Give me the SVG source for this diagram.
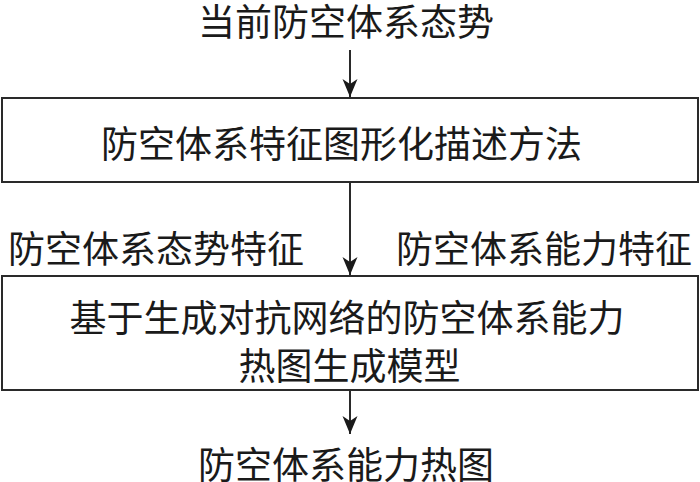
<svg xmlns="http://www.w3.org/2000/svg" width="700" height="482" viewBox="0 0 700 482">
  <style>
    .t { font-family: "Noto Sans CJK SC", "Noto Sans", sans-serif; font-size: 37px; fill: #1a1a1a; dominant-baseline: central; }
    .m { text-anchor: middle; }
    .box { fill: #ffffff; stroke: #2a2a2a; stroke-width: 2; }
    .conn { stroke: #2a2a2a; stroke-width: 2; fill: none; marker-end: url(#arr); }
  </style>
  <defs>
    <marker id="arr" viewBox="-18 -8 18 16" refX="0" refY="0" markerWidth="18" markerHeight="16" orient="auto" markerUnits="userSpaceOnUse">
      <path d="M0,0 L-18,-7.5 L-13,0 L-18,7.5 Z" fill="#1a1a1a"/>
    </marker>
  </defs>
  <rect width="700" height="482" fill="#ffffff"/>

  <g id="connectors">
    <line class="conn" x1="350" y1="50" x2="350" y2="97"/>
    <line class="conn" x1="350" y1="183" x2="350" y2="275"/>
    <line class="conn" x1="350" y1="391" x2="350" y2="434"/>
  </g>

  <g id="input">
    <text class="t m" x="346" y="20">当前防空体系态势</text>
  </g>

  <g id="box1">
    <rect class="box" x="2" y="98" width="696" height="84"/>
    <text class="t m" x="341.5" y="142">防空体系特征图形化描述方法</text>
  </g>

  <g id="label-left">
    <text class="t" x="8" y="247">防空体系态势特征</text>
  </g>

  <g id="label-right">
    <text class="t" x="396" y="247">防空体系能力特征</text>
  </g>

  <g id="box2">
    <rect class="box" x="2" y="276" width="696" height="114"/>
    <text class="t m" x="347" y="316">基于生成对抗网络的防空体系能力</text>
    <text class="t m" x="349.5" y="364">热图生成模型</text>
  </g>

  <g id="output">
    <text class="t m" x="346" y="463">防空体系能力热图</text>
  </g>
</svg>
